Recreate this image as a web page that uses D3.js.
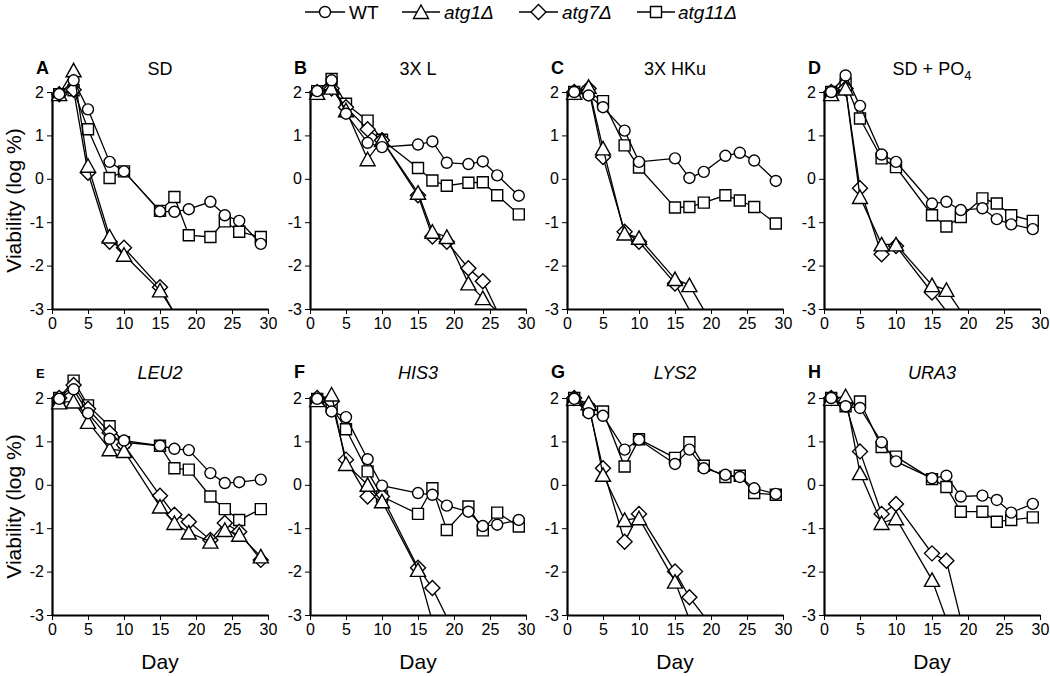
<!DOCTYPE html>
<html>
<head>
<meta charset="utf-8">
<script src="https://cdn.jsdelivr.net/npm/d3@7"></script>
<style>
  html, body { margin: 0; padding: 0; background: #fff; }
  svg { display: block; font-family: "Liberation Sans", Arial, sans-serif; }
</style>
</head>
<body>
<svg id="chart" width="1050" height="676"></svg>
<script>
// ---------- data ----------
const days = [1, 3, 5, 8, 10, 15, 17, 19, 22, 24, 26, 29];
const panelLetters = ["A", "B", "C", "D", "E", "F", "G", "H"];
const xTicks = [0, 5, 10, 15, 20, 25, 30];
const yTicks = [-3, -2, -1, 0, 1, 2];
const seriesNames = ["WT", "atg1Δ", "atg7Δ", "atg11Δ"];

// WT, one row per panel (A..H)
const wtValues = [
  [1.95, 2.27, 1.6, 0.39, 0.17, -0.75, -0.76, -0.7, -0.53, -0.84, -0.97, -1.5],
  [2.02, 2.27, 1.5, 0.83, 0.73, 0.79, 0.86, 0.37, 0.34, 0.4, 0.08, -0.39],
  [2.0, 1.92, 1.65, 1.11, 0.39, 0.47, 0.02, 0.16, 0.53, 0.6, 0.42, -0.05],
  [2.0, 2.38, 1.68, 0.56, 0.39, -0.57, -0.53, -0.72, -0.68, -0.93, -1.05, -1.16],
  [1.98, 2.2, 1.65, 1.06, 1.02, 0.9, 0.83, 0.8, 0.27, 0.04, 0.06, 0.12],
  [1.98, 1.69, 1.56, 0.59, -0.02, -0.19, -0.23, -0.48, -0.62, -0.95, -0.92, -0.81],
  [1.98, 1.65, 1.59, 0.81, 1.04, 0.48, 0.81, 0.38, 0.23, 0.18, -0.08, -0.21],
  [2.0, 1.81, 1.77, 0.98, 0.54, 0.15, 0.21, -0.27, -0.25, -0.35, -0.64, -0.44]
];
// atg1Δ
const atg1Values = [
  [1.95, 2.5, 0.3, -1.33, -1.75, -2.57, -3.1, null, null, null, null, null],
  [1.98, 2.1, 1.58, 0.45, 0.89, -0.32, -1.22, -1.34, -2.41, -2.75, -3.05, null],
  [1.98, 2.12, 0.7, -1.26, -1.36, -2.31, -2.45, -3.02, null, null, null, null],
  [1.95, 2.08, -0.42, -1.51, -1.51, -2.45, -2.56, -3.05, null, null, null, null],
  [1.9, 1.92, 1.45, 0.82, 0.78, -0.5, -0.88, -1.1, -1.31, -1.04, -1.15, -1.65],
  [1.95, 2.08, 0.48, 0.0, -0.38, -1.96, -3.15, null, null, null, null, null],
  [1.98, 1.88, 0.23, -0.81, -0.77, -2.23, -3.1, null, null, null, null, null],
  [1.98, 2.04, 0.27, -0.88, -0.77, -2.19, -3.1, null, null, null, null, null]
];
// atg7Δ
const atg7Values = [
  [1.95, 2.05, 0.14, -1.45, -1.59, -2.5, -3.1, null, null, null, null, null],
  [2.0, 2.08, 1.65, 1.14, 0.89, -0.38, -1.33, -1.45, -2.06, -2.36, -3.05, null],
  [2.0, 2.08, 0.5, -1.22, -1.45, -2.41, -3.02, null, null, null, null, null],
  [2.0, 2.08, -0.22, -1.74, -1.55, -2.62, -3.05, null, null, null, null, null],
  [2.0, 2.3, 1.75, 1.2, 0.92, -0.25, -0.69, -0.85, -1.27, -0.88, -1.08, -1.73],
  [2.0, 1.92, 0.58, -0.27, -0.27, -1.91, -2.38, -3.05, null, null, null, null],
  [2.0, 1.81, 0.38, -1.31, -0.67, -2.0, -2.59, -3.02, null, null, null, null],
  [2.0, 1.85, 0.77, -0.67, -0.44, -1.58, -1.75, -3.1, null, null, null, null]
];
// atg11Δ
const atg11Values = [
  [1.95, 2.04, 1.14, 0.02, 0.17, -0.74, -0.42, -1.3, -1.34, -0.98, -1.22, -1.34],
  [2.02, 2.3, 1.73, 1.34, 0.9, 0.25, -0.04, -0.16, -0.09, -0.08, -0.38, -0.82],
  [2.0, 2.0, 1.79, 0.77, 0.26, -0.66, -0.65, -0.55, -0.38, -0.5, -0.65, -1.03],
  [2.0, 2.19, 1.39, 0.47, 0.27, -0.84, -1.1, -0.88, -0.45, -0.57, -0.84, -0.97],
  [2.0, 2.4, 1.83, 1.35, 0.98, 0.9, 0.38, 0.35, -0.27, -0.56, -0.81, -0.56],
  [1.98, 1.81, 1.28, 0.31, -0.27, -0.67, -0.08, -1.04, -0.5, -1.05, -0.64, -0.96],
  [2.0, 1.73, 1.69, 0.42, 1.05, 0.62, 0.98, 0.44, 0.18, 0.21, -0.19, -0.23],
  [2.0, 1.81, 1.92, 0.87, 0.65, 0.13, -0.05, -0.62, -0.62, -0.85, -0.81, -0.75]
];

// ---------- layout ----------
const svg = d3.select("#chart");
const colX = [52, 310, 567, 824];
const plotW = 216;
const rowY = [92, 398];   // pixel y of value 2
const plotH = 217;        // from 2 to -3

// marker shapes
const markerPath = {
  circle: () => { const r = 5.5; return `M${-r},0A${r},${r} 0 1,0 ${r},0A${r},${r} 0 1,0 ${-r},0Z`; },
  triangle: () => "M0,-7L7.5,6.5L-7.5,6.5Z",
  diamond: () => "M0,-7.5L7.5,0L0,7.5L-7.5,0Z",
  square: () => "M-5.5,-5.5H5.5V5.5H-5.5Z"
};
const seriesDefs = [
  { name: "atg11Δ", values: atg11Values, shape: "square" },
  { name: "atg7Δ", values: atg7Values, shape: "diamond" },
  { name: "atg1Δ", values: atg1Values, shape: "triangle" },
  { name: "WT", values: wtValues, shape: "circle" }
];

const defs = svg.append("defs");

panelLetters.forEach((letter, pi) => {
  const col = pi % 4, row = Math.floor(pi / 4);
  const x0 = colX[col], yTop = rowY[row];
  const x = d3.scaleLinear().domain([0, 30]).range([x0, x0 + plotW]);
  const y = d3.scaleLinear().domain([-3, 2]).range([yTop + plotH, yTop]);

  const clipId = "clip" + pi;
  defs.append("clipPath").attr("id", clipId)
    .append("rect")
    .attr("x", x(0) - 20).attr("y", y(2) - 50)
    .attr("width", plotW + 40).attr("height", y(-3) - y(2) + 50);

  const g = svg.append("g");

  // axes
  const xAxis = d3.axisBottom(x).tickValues(xTicks).tickSize(5).tickSizeOuter(0).tickPadding(4)
    .tickFormat(d => String(d));
  const yAxis = d3.axisLeft(y).tickValues(yTicks).tickSize(5).tickSizeOuter(0).tickPadding(3)
    .tickFormat(d => String(d));
  const gx = g.append("g").attr("transform", `translate(0,${y(-3)})`).call(xAxis);
  const gy = g.append("g").attr("transform", `translate(${x(0)},0)`).call(yAxis);
  [gx, gy].forEach(a => {
    a.select(".domain").attr("stroke", "#000").attr("stroke-width", 2.2);
    a.selectAll(".tick line").attr("stroke", "#000").attr("stroke-width", 1);
    a.selectAll(".tick text").attr("fill", "#000")
      .style("font-family", "'Liberation Sans', Arial, sans-serif").style("font-size", "16px");
  });

  // series
  const plot = g.append("g").attr("clip-path", `url(#${clipId})`);
  const line = d3.line().defined(d => d.v !== null).x(d => x(d.day)).y(d => y(d.v));
  seriesDefs.forEach(s => {
    const pts = days.map((day, i) => ({ day, v: s.values[pi][i] }));
    plot.append("path").datum(pts)
      .attr("d", line).attr("fill", "none").attr("stroke", "#000").attr("stroke-width", 1.3);
    plot.selectAll(null).data(pts.filter(d => d.v !== null && d.v >= -3)).enter()
      .append("path")
      .attr("transform", d => `translate(${x(d.day)},${y(d.v)})`)
      .attr("d", markerPath[s.shape]())
      .attr("fill", "#fff").attr("stroke", "#000").attr("stroke-width", 1.4);
  });

  // panel letter
  g.append("text")
    .attr("x", x0 - 16).attr("y", row === 0 ? 74 : 378)
    .style("font-weight", "bold")
    .style("font-size", letter === "E" ? "13px" : "18px")
    .text(letter);
});

// panel titles
const titlesTop = ["SD", "3X L", "3X HKu"];
titlesTop.forEach((t, i) => {
  svg.append("text").attr("x", colX[i] + plotW / 2).attr("y", 75)
    .attr("text-anchor", "middle").style("font-size", "18px").text(t);
});
const tD = svg.append("text").attr("x", colX[3] + plotW / 2).attr("y", 75)
  .attr("text-anchor", "middle").style("font-size", "18px");
tD.append("tspan").text("SD + PO");
tD.append("tspan").attr("dy", 5).style("font-size", "13px").text("4");
const titlesBottom = ["LEU2", "HIS3", "LYS2", "URA3"];
titlesBottom.forEach((t, i) => {
  svg.append("text").attr("x", colX[i] + plotW / 2).attr("y", 379)
    .attr("text-anchor", "middle").style("font-size", "18px").style("font-style", "italic").text(t);
});

// axis titles
[0, 1].forEach(row => {
  const cy = rowY[row] + plotH / 2;
  svg.append("text")
    .attr("transform", `translate(21,${cy}) rotate(-90)`)
    .attr("text-anchor", "middle").style("font-size", "21px")
    .text("Viability (log %)");
});
colX.forEach(cx => {
  svg.append("text").attr("x", cx + plotW / 2).attr("y", 669)
    .attr("text-anchor", "middle").style("font-size", "21px").text("Day");
});

// legend
const legendItems = [
  { name: seriesNames[0], shape: "circle", x1: 305, x2: 345, tx: 349, italic: false },
  { name: seriesNames[1], shape: "triangle", x1: 402, x2: 440, tx: 444, italic: true },
  { name: seriesNames[2], shape: "diamond", x1: 519, x2: 558, tx: 562, italic: true },
  { name: seriesNames[3], shape: "square", x1: 637, x2: 675, tx: 678, italic: true }
];
const lg = svg.append("g");
legendItems.forEach(it => {
  const ly = 12;
  lg.append("line").attr("x1", it.x1).attr("x2", it.x2).attr("y1", ly).attr("y2", ly)
    .attr("stroke", "#000").attr("stroke-width", 1.3);
  lg.append("path").attr("transform", `translate(${(it.x1 + it.x2) / 2},${ly})`)
    .attr("d", markerPath[it.shape]())
    .attr("fill", "#fff").attr("stroke", "#000").attr("stroke-width", 1.4);
  lg.append("text").attr("x", it.tx).attr("y", 19)
    .style("font-size", "19px").style("font-style", it.italic ? "italic" : "normal")
    .text(it.name);
});
</script>
</body>
</html>
